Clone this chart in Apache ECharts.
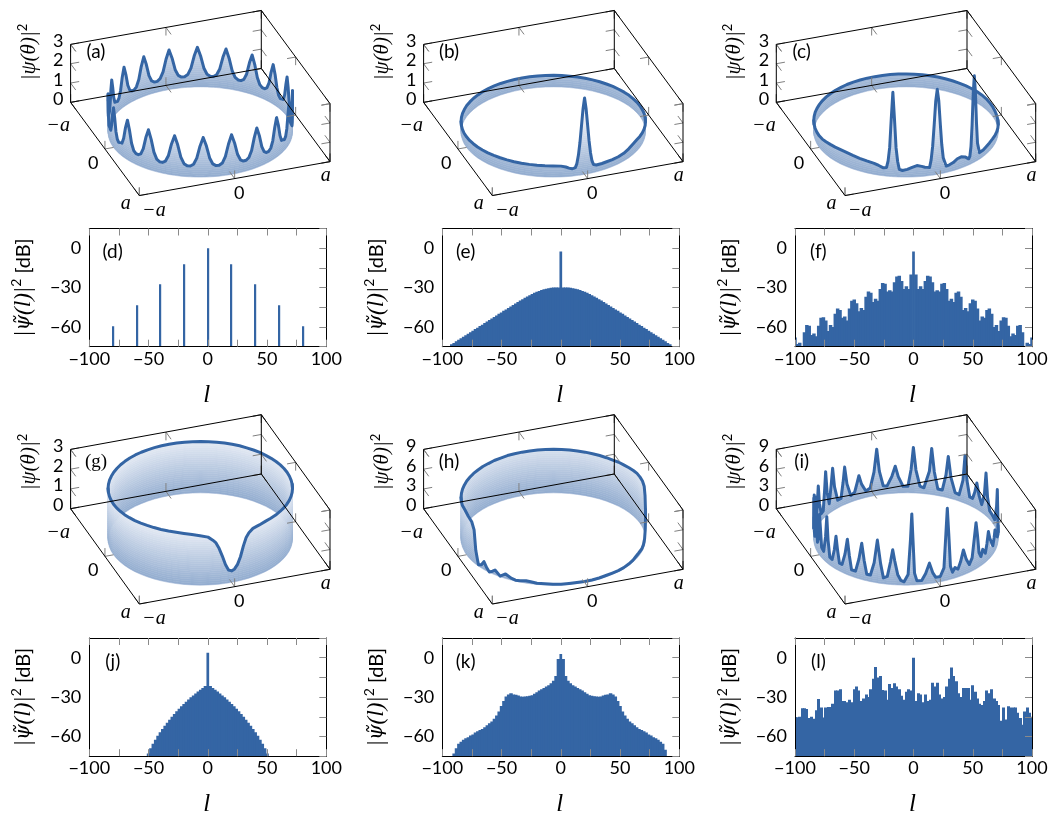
<!DOCTYPE html>
<html><head><meta charset="utf-8">
<style>html,body{margin:0;padding:0;background:#fff}#c{width:1051px;height:815px}</style>
<script src="https://cdn.jsdelivr.net/npm/echarts@6/dist/echarts.min.js"></script>
</head><body><div id="c"></div>
<script>
// ---------- ring intensity |psi(theta)|^2 ----------
const thetaA=[0,2,4,6,8,10,12,14,16,18,20,22,24,26,28,30,32,34,36,38,40,42,44,46,48,50,52,54,56,58,60,62,64,66,68,70,72,74,76,78,80,82,84,86,88,90,92,94,96,98,100,102,104,106,108,110,112,114,116,118,120,122,124,126,128,130,132,134,136,138,140,142,144,146,148,150,152,154,156,158,160,162,164,166,168,170,172,174,176,178,180,182,184,186,188,190,192,194,196,198,200,202,204,206,208,210,212,214,216,218,220,222,224,226,228,230,232,234,236,238,240,242,244,246,248,250,252,254,256,258,260,262,264,266,268,270,272,274,276,278,280,282,284,286,288,290,292,294,296,298,300,302,304,306,308,310,312,314,316,318,320,322,324,326,328,330,332,334,336,338,340,342,344,346,348,350,352,354,356,358];
const valueA=[2.05,1.6,.98,.66,.56,.56,.66,.98,1.6,2.05,1.6,.98,.66,.56,.56,.66,.98,1.6,2.05,1.6,.98,.66,.56,.56,.66,.98,1.6,2.05,1.6,.98,.66,.56,.56,.66,.98,1.6,2.05,1.6,.98,.66,.56,.56,.66,.98,1.6,2.05,1.6,.98,.66,.56,.56,.66,.98,1.6,2.05,1.6,.98,.66,.56,.56,.66,.98,1.6,2.05,1.6,.98,.66,.56,.56,.66,.98,1.6,2.05,1.6,.98,.66,.56,.56,.66,.98,1.6,2.05,1.6,.98,.66,.56,.56,.66,.98,1.6,2.05,1.6,.98,.66,.56,.56,.66,.98,1.6,2.05,1.6,.98,.66,.56,.56,.66,.98,1.6,2.05,1.6,.98,.66,.56,.56,.66,.98,1.6,2.05,1.6,.98,.66,.56,.56,.66,.98,1.6,2.05,1.6,.98,.66,.56,.56,.66,.98,1.6,2.05,1.6,.98,.66,.56,.56,.66,.98,1.6,2.05,1.6,.98,.66,.56,.56,.66,.98,1.6,2.05,1.6,.98,.66,.56,.56,.66,.98,1.6,2.05,1.6,.98,.66,.56,.56,.66,.98,1.6,2.05,1.6,.98,.66,.56,.56,.66,.98,1.6];
const thetaB=[0,5,10,15,20,25,30,35,40,45,50,55,60,65,70,75,78,80,82,83,84,85,86,87,88,89,90,91,92,93,94,95,96,97,98,100,102,105,110,115,120,125,130,135,140,145,150,155,160,165,170,175,180,185,190,195,200,205,210,215,220,225,230,235,240,245,250,255,260,265,270,275,280,285,290,295,300,305,310,315,320,325,330,335,340,345,350,355];
const valueB=[.55,.54,.54,.54,.54,.54,.55,.56,.57,.58,.55,.47,.4,.37,.36,.36,.35,.35,.35,.36,.42,.62,1.05,1.7,2.55,3.4,3.95,3.4,2.55,1.7,1.05,.62,.42,.37,.38,.43,.5,.56,.58,.58,.58,.58,.58,.58,.58,.58,.58,.57,.57,.56,.56,.55,.55,.54,.54,.54,.55,.55,.56,.56,.57,.57,.58,.58,.59,.59,.6,.6,.6,.6,.6,.6,.6,.6,.6,.6,.59,.59,.59,.58,.58,.57,.57,.56,.56,.56,.55,.55];
const thetaC=[0,5,10,15,20,25,30,35,40,45,50,53,55,57,58,59,60,61,62,63,64,65,66,67,70,73,76,79,82,83,84,85,86,87,88,89,90,91,92,93,94,95,96,98,100,103,106,109,112,113,114,115,116,117,118,119,120,121,122,124,127,130,135,140,145,150,155,160,165,170,175,180,185,190,195,200,205,210,215,220,225,230,235,240,245,250,255,260,265,270,275,280,285,290,295,300,305,310,315,320,325,330,335,340,345,350,355];
const valueC=[.5,.46,.43,.41,.4,.41,.42,.43,.44,.42,.38,.34,.33,.34,.42,.9,2,3.6,4.47,3.6,2,.9,.42,.32,.5,.58,.55,.42,.35,.33,.34,.4,.8,1.5,2.6,3.8,4.4,3.8,2.6,1.5,.8,.42,.41,.46,.52,.58,.5,.4,.34,.34,.4,.8,1.5,3,4.37,3,1.5,.8,.45,.41,.5,.57,.62,.66,.7,.73,.74,.72,.7,.66,.62,.6,.6,.6,.6,.6,.61,.62,.62,.63,.64,.65,.65,.66,.66,.67,.67,.67,.67,.67,.67,.67,.67,.67,.66,.66,.65,.65,.64,.63,.62,.61,.6,.59,.58,.56,.53];
const thetaG=[0,5,10,15,20,25,30,35,40,45,50,55,60,65,70,75,78,80,82,84,86,88,90,92,94,96,98,100,102,105,110,115,120,125,130,135,140,145,150,155,160,165,170,175,180,185,190,195,200,205,210,215,220,225,230,235,240,245,250,255,260,265,270,275,280,285,290,295,300,305,310,315,320,325,330,335,340,345,350,355];
const valueG=[2.58,2.57,2.56,2.56,2.56,2.56,2.56,2.56,2.56,2.56,2.56,2.55,2.55,2.54,2.5,2.45,2.3,2.1,1.7,1.2,.85,.65,.58,.65,.95,1.4,1.8,2.1,2.25,2.42,2.5,2.55,2.58,2.6,2.6,2.6,2.6,2.6,2.59,2.58,2.58,2.57,2.57,2.56,2.56,2.56,2.56,2.56,2.56,2.56,2.57,2.57,2.58,2.58,2.59,2.59,2.6,2.6,2.6,2.6,2.6,2.6,2.6,2.6,2.6,2.6,2.6,2.6,2.6,2.6,2.6,2.6,2.59,2.59,2.59,2.58,2.58,2.58,2.58,2.58];
const thetaH=[0,5,10,14,18,20,24,28,32,36,42,46,50,55,60,65,70,75,80,85,90,95,100,105,110,115,120,124,127,131,134,137,141,145,149,151,153.7,156,158.6,161,164,165,167,169,172,177,183,190,195,200,205,210,215,220,225,230,235,240,245,250,255,260,265,270,275,280,285,290,295,300,305,310,315,320,325,330,335,340,345,350,355];
const valueH=[7,7,6.8,5.8,4.2,3.4,2,1,.6,.45,.5,.45,.3,.22,.15,.15,.2,.2,.15,.12,.12,.15,.15,.12,.15,.2,.18,.3,.35,.2,.15,.3,.7,.1,.74,.4,.05,.5,1.2,.5,.2,.8,2.1,5,5.9,6.2,6.45,6.3,6.3,6.3,6.3,6.35,6.35,6.4,6.4,6.45,6.45,6.5,6.5,6.55,6.55,6.6,6.6,6.6,6.6,6.6,6.6,6.6,6.6,6.6,6.6,6.6,6.6,6.6,6.6,6.6,6.7,6.7,6.8,6.9,7];
const thetaI=[0,4,7,9,11.8,14,16.5,20,24,28,31,33,35,37,39.5,42,44.5,46.5,48.5,50.5,53.5,55.5,57.5,59,60.4,62,64,66.5,69,71.3,73.5,75.5,77.7,79.5,81,82.2,83.2,84.2,85.5,88,91,93,95.1,97.5,100,103,104.5,105.5,106.2,107,108.5,111,113,115,116.8,118.1,119.5,121.5,124,125.8,127.9,130,132.5,135,136.8,138.5,140.5,143,146,147.7,149.3,151.2,153.7,156,157.7,159.2,160.8,163,165.5,167.5,169,170.5,173,176,178,179.5,181,183.5,185.8,187.3,189,191,193.5,195.5,197,198.5,201,203.5,205.5,207.5,210,213,215.8,217.8,220,223,226,227.8,229.2,231,233.5,235.5,237.1,239,242,245,246.8,248.1,250,253,256,257.8,259.1,261,264,267,269.5,271.3,273,275.5,278,281,283.1,285,288,291,293,294.4,296,298.5,301,304.5,306,307.7,310,313,315.5,317.1,319,322,325,328,329.6,331.2,333.5,336,338,340,342,345,348,350,352,355,358];
const valueI=[1.4,1,1.6,3.6,6.5,3.6,1.6,1.1,1.2,1.3,1.6,2.5,3.2,2.2,1.3,1.5,3,4.25,2.6,1.4,2.3,1.4,2.2,5,7,4.8,2,1.2,2.2,3.8,2.2,1.2,1.6,1,2,7,10.9,7,2,.8,.8,1.6,3.1,1.6,.6,.6,1.8,7,10.8,7,1.6,.5,.7,1.6,3.6,5.3,3.4,1.2,.9,3,6.5,3,1,1,3,5.5,3,1,1,3,5.4,3,1.2,1.2,3,5,2.8,1.1,1.2,3.6,7,3.8,1.3,1.6,4.4,6.2,2.6,1.5,4,7.9,4,1.5,2,5,6.6,3.5,1.5,3,6,3,1.3,1.3,3.5,5.9,3,1.1,1.2,4,6.8,3.5,1.5,4,6.5,3.5,1.2,1.2,3.5,5.7,3,1,1.3,2.6,3.6,2.2,1,1.3,3.6,7,3.6,1.3,1.2,2.6,4.1,2.5,1,1,3.6,6.9,3.5,1.1,.9,3.5,7,3.5,1,1,3.4,6.3,3.2,1.1,1,3.4,7.3,3.6,1.3,1.3,2.4,4,2.4,1.2,3,6.5,3,1.3,1.2];

// ---------- spectra |psi~(l)|^2 in dB ----------
const lComb=[-80,-60,-40,-20,0,20,40,60,80];
const dbD=[-59.5,-43.4,-27.4,-12.3,0,-12.3,-27.4,-43.4,-59.5];
const lEven=[-100,-98,-96,-94,-92,-90,-88,-86,-84,-82,-80,-78,-76,-74,-72,-70,-68,-66,-64,-62,-60,-58,-56,-54,-52,-50,-48,-46,-44,-42,-40,-38,-36,-34,-32,-30,-28,-26,-24,-22,-20,-18,-16,-14,-12,-10,-8,-6,-4,-2,0,2,4,6,8,10,12,14,16,18,20,22,24,26,28,30,32,34,36,38,40,42,44,46,48,50,52,54,56,58,60,62,64,66,68,70,72,74,76,78,80,82,84,86,88,90,92,94,96,98,100];
const dbE=[-80,-78,-76,-74.4,-73.2,-72.1,-70.9,-69.8,-68.6,-67.4,-66.3,-65.1,-64,-62.8,-61.6,-60.5,-59.3,-58.2,-57,-55.8,-54.7,-53.5,-52.4,-51.2,-50,-48.9,-47.7,-46.6,-45.5,-44.3,-43.2,-42.1,-41,-39.9,-38.8,-37.8,-36.8,-35.8,-34.9,-34,-33.2,-32.5,-31.8,-31.2,-30.8,-30.4,-30.2,-30,-29.9,-29.9,-2.5,-29.9,-29.9,-30,-30.2,-30.4,-30.8,-31.2,-31.8,-32.5,-33.2,-34,-34.9,-35.8,-36.8,-37.8,-38.8,-39.9,-41,-42.1,-43.2,-44.3,-45.5,-46.6,-47.7,-48.9,-50,-51.2,-52.4,-53.5,-54.7,-55.8,-57,-58.2,-59.3,-60.5,-61.6,-62.8,-64,-65.1,-66.3,-67.4,-68.6,-69.8,-70.9,-72.1,-73.2,-74.4,-76,-78,-80];
const dbF=[-68,-73,-72,-75,-64,-58.5,-59,-66,-65,-67,-59,-53,-52.5,-55,-63,-58.5,-60,-50,-46,-47,-53,-52,-55,-46,-40,-39,-42,-48,-45.5,-47,-37,-33,-34,-41,-38.5,-40,-31,-26.5,-27,-33,-32,-33,-26,-21.5,-21,-25,-31,-29,-31,-20,-2.5,-20,-31,-29,-31,-25,-21,-21.5,-26,-33,-32,-33,-27,-26.5,-31,-40,-38.5,-41,-34,-33,-37,-47,-45.5,-48,-42,-39,-40,-46,-55,-52,-53,-47,-46,-50,-60,-58.5,-63,-55,-52.5,-53,-59,-67,-65,-66,-59,-58.5,-64,-75,-72,-73,-68];
const dbJ=[-90,-90,-90,-90,-90,-90,-90,-90,-90,-90,-90,-90,-90,-90,-90,-90,-90,-90,-90,-90,-90,-90,-90,-90,-77,-73,-69,-65.5,-62.5,-59.5,-56.8,-54.2,-51.8,-49.5,-47.3,-45,-42.8,-40.8,-38.8,-37,-35.2,-33.5,-31.8,-30.2,-28.7,-27.2,-25.8,-24.4,-23,-21.6,3.8,-21.6,-23,-24.4,-25.8,-27.2,-28.7,-30.2,-31.8,-33.5,-35.2,-37,-38.8,-40.8,-42.8,-45,-47.3,-49.5,-51.8,-54.2,-56.8,-59.5,-62.5,-65.5,-69,-73,-77,-90,-90,-90,-90,-90,-90,-90,-90,-90,-90,-90,-90,-90,-90,-90,-90,-90,-90,-90,-90,-90,-90,-90];
const dbK=[-85,-85,-85,-85,-77,-73,-69,-65.5,-64,-62.5,-61.3,-60.5,-59.3,-58.5,-57,-56,-55,-54.2,-53,-51.5,-50,-48.5,-46.5,-44,-41,-36.7,-33,-29.5,-28,-27,-28,-28.3,-28.8,-29.5,-29.7,-29.6,-29.4,-29,-28.5,-27.5,-26.3,-25,-24,-23,-22,-21,-19.5,-17.5,-14,-1,2.8,-1,-14,-17.5,-19.5,-21,-22,-23,-24,-25,-26.3,-27.5,-28.5,-29,-29.4,-29.6,-29.7,-29.5,-28.8,-28.3,-28,-27,-28,-29.5,-33,-36.7,-41,-44,-46.5,-48.5,-50,-51.5,-53,-54.2,-55,-56,-57,-58.5,-59.3,-60.5,-61.3,-62.5,-64,-65.5,-70,-76,-85,-85,-85,-85,-85];
const dbL=[-45.3,-45.3,-45,-38.5,-38.5,-39,-46,-45,-46.5,-40,-31.5,-38,-45.5,-38,-37.5,-37.5,-35,-25,-25,-24,-33,-33,-34,-32,-34,-24,-22,-25,-33,-31,-28,-30,-24,-16,-7,-15,-14,-24.5,-25,-32,-20,-23,-19.5,-22,-24,-29,-32,-26,-24,-25,0,-33,-27,-28,-34,-28,-33,-32,-19,-22,-19,-28,-31,-30,-22,-16,-7.5,-14,-18,-27,-30,-23,-23,-23,-32,-21,-26,-31,-35,-36,-33,-25,-27,-24,-31,-33,-36,-48,-38,-47,-37,-38,-38,-38,-42,-46,-51,-41,-38,-42,-45];

// ---------- tick labels and captions ----------
const xTickLabels3D=['\u2212a','0','a'];
const yTickLabels3D=['\u2212a','0','a'];
const zTicksLow=[0,1,2,3];
const zTicksHigh=[0,3,6,9];
const captions3D=['(a)','(b)','(c)','(g)','(h)','(i)'];
const captions2D=['(d)','(e)','(f)','(j)','(k)','(l)'];

// ---------- layout and style ----------
const BLUE='#3465a4', SANS='Lato', SERIF='"Liberation Serif"';
const panels3D=[
 {cap:0,theta:thetaA,value:valueA,ticks:zTicksLow,cx:200.3,cy:129},
 {cap:1,theta:thetaB,value:valueB,ticks:zTicksLow,cx:553.3,cy:129},
 {cap:2,theta:thetaC,value:valueC,ticks:zTicksLow,cx:906,cy:129},
 {cap:3,theta:thetaG,value:valueG,ticks:zTicksLow,cx:200.3,cy:539},
 {cap:4,theta:thetaH,value:valueH,ticks:zTicksHigh,cx:553.3,cy:539},
 {cap:5,theta:thetaI,value:valueI,ticks:zTicksHigh,cx:906,cy:539}
];
const panels2D=[
 {cap:0,l:lComb,db:dbD,x:89.3,y:228.5,w:2.2,soft:false},
 {cap:1,l:lEven,db:dbE,x:442.3,y:228.5,w:3.5,soft:true},
 {cap:2,l:lEven,db:dbF,x:795,y:228.5,w:3.5,soft:true},
 {cap:3,l:lEven,db:dbJ,x:89.3,y:638,w:3.5,soft:true},
 {cap:4,l:lEven,db:dbK,x:442.3,y:638,w:3.5,soft:true},
 {cap:5,l:lEven,db:dbL,x:795,y:638,w:3,soft:false}
];
const EX=[95.35,17.35], EY=[34.35,-47.65], EZ=59.3, R=0.91;
const project=(x,y,z)=>[x*EX[0]+y*EY[0], x*EX[1]+y*EY[1]+z*EZ];
const ringAt=(deg,z)=>project(R*Math.cos(deg*Math.PI/180),R*Math.sin(deg*Math.PI/180),z);
const mix=(t)=>{t=Math.min(1,Math.max(0,t));const a=[146,172,207],b=[240,243,249];
  return 'rgb('+a.map((v,i)=>Math.round(v+(b[i]-v)*t)).join(',')+')';};

const grid=[],xAxis=[],yAxis=[],series=[],graphic=[];

// split a ring's samples into the half behind and the half in front of the silhouette
function splitRing(theta){
  const n=theta.length, F0=19.8, F1=199.8;
  const inFront=[];
  theta.forEach((t,i)=>{if(t>=F0&&t<=F1)inFront.push(i);});
  const f0=inFront[0], f1=inFront[inFront.length-1];
  const front=[(f0-1+n)%n].concat(inFront,[(f1+1)%n]);
  const back=[];
  for(let i=f1;;i=(i+1)%n){back.push(i);if(i===f0)break;}
  return {front,back};
}

panels3D.forEach(p=>{
  const g=grid.length, zmax=p.ticks[p.ticks.length-1];
  grid.push({left:p.cx-145,top:p.cy-135,width:290,height:270,containLabel:false});
  const ax=xAxis.length, ay=yAxis.length;
  xAxis.push({gridIndex:g,type:'value',min:-145,max:145,show:false});
  yAxis.push({gridIndex:g,type:'value',min:-135,max:135,show:false});
  const halves=splitRing(p.theta);
  const peak=Math.max.apply(null,p.value);
  const dz=zmax/30, bands=[];
  for(let k=0;k*dz<peak;k++) bands.push([k*dz,(k+1)*dz]);
  [halves.back,halves.front].forEach((idx,h)=>{
    series.push({type:'custom',xAxisIndex:ax,yAxisIndex:ay,z:2+2*h,silent:true,data:bands,
      renderItem:(params,api)=>{
        const lo=api.value(0),hi=api.value(1);
        const top=idx.map(i=>api.coord(ringAt(p.theta[i],Math.min(hi,p.value[i])/zmax)));
        const bot=idx.map(i=>api.coord(ringAt(p.theta[i],Math.min(lo,p.value[i])/zmax))).reverse();
        const col=mix((lo+hi)/2/zmax);
        return {type:'polygon',shape:{points:top.concat(bot)},style:{fill:col,stroke:col,lineWidth:.5}};
      }});
    series.push({type:'line',xAxisIndex:ax,yAxisIndex:ay,z:3+2*h,silent:true,symbol:'none',showSymbol:false,clip:false,
      lineStyle:{color:BLUE,width:3,cap:'round',join:'round'},
      data:idx.map(i=>ringAt(p.theta[i],p.value[i]/zmax))});
  });
  // box edges and ticks
  const seg=[];
  const add=(a,b,k)=>seg.push([a[0],a[1],a[2],b[0],b[1],b[2],k]);
  const TX=.09,TY=.15,TZ=.14;
  const tick=(pt,d1,d2)=>{add(pt,[pt[0]+d1[0],pt[1]+d1[1],pt[2]+d1[2]],1);add(pt,[pt[0]+d2[0],pt[1]+d2[1],pt[2]+d2[2]],1);};
  p.ticks.forEach(zv=>{const z=zv/zmax;
    tick([-1,-1,z],[TX,0,0],[0,TY,0]);
    tick([1,-1,z],[-TX,0,0],[0,TY,0]);
    tick([1,1,z],[-TX,0,0],[0,-TY,0]);
  });
  xTickLabels3D.forEach((_,i)=>{const v=i-1;
    tick([v,-1,0],[0,TY,0],[0,0,TZ]);
    tick([v,-1,1],[0,TY,0],[0,0,-TZ]);
    tick([v,1,0],[0,-TY,0],[0,0,TZ]);
    tick([-1,v,0],[TX,0,0],[0,0,TZ]);
    tick([1,v,0],[-TX,0,0],[0,0,TZ]);
    tick([1,v,1],[-TX,0,0],[0,0,-TZ]);
  });
  [[[-1,-1,0],[1,-1,0]],[[1,-1,0],[1,1,0]],[[1,1,0],[-1,1,0]],[[-1,1,0],[-1,-1,0]],
   [[-1,-1,0],[-1,-1,1]],[[1,-1,0],[1,-1,1]],[[1,1,0],[1,1,1]],
   [[-1,-1,1],[1,-1,1]],[[1,-1,1],[1,1,1]]].forEach(e=>add(e[0],e[1],0));
  series.push({type:'custom',xAxisIndex:ax,yAxisIndex:ay,z:7,silent:true,data:seg,
    renderItem:(params,api)=>{
      const a=api.coord(project(api.value(0),api.value(1),api.value(2)));
      const b=api.coord(project(api.value(3),api.value(4),api.value(5)));
      const edge=api.value(6)===0;
      return {type:'line',shape:{x1:a[0],y1:a[1],x2:b[0],y2:b[1]},
        style:{stroke:edge?'#000':'#808080',lineWidth:1}};
    }});
  // tick labels
  const lab=[];
  p.ticks.forEach((zv,i)=>lab.push({pos:[-1,-1,zv/zmax],text:String(zv),dx:-12.4,dy:-3.3,serif:false}));
  const fx=[[14.7,15],[4.5,15],[-4.3,14]], fy=[[-12.4,23.6],[-11.7,14.3],[-13.6,8.3]];
  xTickLabels3D.forEach((t,i)=>lab.push({pos:[i-1,1,0],text:t,dx:fx[i][0],dy:fx[i][1],serif:t!=='0'}));
  yTickLabels3D.forEach((t,i)=>lab.push({pos:[-1,i-1,0],text:t,dx:fy[i][0],dy:fy[i][1],serif:t!=='0'}));
  series.push({type:'custom',xAxisIndex:ax,yAxisIndex:ay,z:8,silent:true,data:lab.map(l=>[l.pos[0],l.pos[1],l.pos[2]]),
    renderItem:(params,api)=>{
      const l=lab[params.dataIndex];
      const c=api.coord(project(api.value(0),api.value(1),api.value(2)));
      return {type:'text',x:c[0]+l.dx,y:c[1]+l.dy,style:{text:l.text,fill:'#000',align:'center',verticalAlign:'middle',
        font:l.serif?'italic 20px '+SERIF:'18px '+SANS}};
    }});
  graphic.push({type:'text',x:p.cx-171.3,y:p.cy-77,rotation:Math.PI/2,silent:true,
    style:{text:'{m|\u007C\u03C8(\u03B8)\u007C}{s|2}',align:'center',verticalAlign:'middle',
      rich:{m:{fontFamily:SERIF,fontStyle:'italic',fontSize:21,fill:'#000',lineHeight:26},
            s:{fontFamily:SANS,fontSize:13,fill:'#000',verticalAlign:'top',lineHeight:18}}}});
  const cap=captions3D[p.cap];
  graphic.push({type:'text',x:p.cx-104.3,y:p.cy-77,silent:true,
    style:{text:cap,fill:'#000',font:(cap==='(g)'?'19px '+SERIF:'19px '+SANS),align:'center',verticalAlign:'middle'}});
});

const PW=237,PH=118.2;
const minus=v=>String(v).replace('-','\u2212');
panels2D.forEach(p=>{
  const g=grid.length;
  grid.push({left:p.x,top:p.y,width:PW,height:PH,containLabel:false});
  const common={gridIndex:g,type:'value',z:5,splitLine:{show:false}};
  const line={show:true,onZero:false,lineStyle:{color:'#000',width:1}};
  const tk={show:true,inside:true,length:7,lineStyle:{color:'#8a8a8a',width:1}};
  const ax=xAxis.length, ay=yAxis.length;
  xAxis.push(Object.assign({},common,{min:-100,max:100,interval:25,position:'bottom',axisLine:line,axisTick:tk,
    axisLabel:{show:true,margin:3,color:'#000',fontFamily:SANS,fontSize:18,hideOverlap:false,
      formatter:v=>v%50===0?minus(v):''}}));
  xAxis.push(Object.assign({},common,{min:-100,max:100,interval:25,position:'top',axisLine:line,axisTick:tk,axisLabel:{show:false}}));
  yAxis.push(Object.assign({},common,{min:-75,max:15,interval:15,position:'left',axisLine:line,axisTick:{show:false},
    axisLabel:{show:true,margin:8,color:'#000',fontFamily:SANS,fontSize:18,hideOverlap:false,
      formatter:v=>v%30===0?minus(v):''}}));
  yAxis.push(Object.assign({},common,{min:-75,max:15,interval:15,position:'right',axisLine:line,axisTick:tk,axisLabel:{show:false}}));
  series.push({type:'custom',xAxisIndex:ax,yAxisIndex:ay,z:2,silent:true,clip:true,
    data:p.l.map((l,i)=>[l,p.db[i]]),encode:{x:0,y:1},
    renderItem:(params,api)=>{
      if(api.value(1)<=-75) return null;
      const t=api.coord([api.value(0),api.value(1)]),b=api.coord([api.value(0),-75]);
      const w=(p.soft&&api.value(0)===0)?2.7:p.w;
      const x=p.soft?t[0]-w/2:Math.round(t[0]-w/2);
      return {type:'rect',shape:{x:x,y:t[1],width:w,height:b[1]-t[1]},style:{fill:BLUE}};
    }});
  graphic.push({type:'text',x:p.x+23.4,y:p.y+23.5,silent:true,
    style:{text:captions2D[p.cap],fill:'#000',font:'19px '+SANS,align:'center',verticalAlign:'middle'}});
  graphic.push({type:'text',x:p.x+PW/2-1,y:p.y+PH+48.5,silent:true,
    style:{text:'l',fill:'#000',font:'italic 25px '+SERIF,align:'center',verticalAlign:'middle'}});
  graphic.push({type:'text',x:p.x-65.5,y:p.y+PH/2,rotation:Math.PI/2,silent:true,
    style:{text:'{m|\u007C}{t|\u03C8\u0303}{m|(l)\u007C}{s|2}{d| [dB]}',align:'center',verticalAlign:'middle',
      rich:{m:{fontFamily:SERIF,fontStyle:'italic',fontSize:23,fill:'#000',lineHeight:28},
            t:{fontFamily:'"DejaVu Serif"',fontStyle:'italic',fontSize:20,fill:'#000',lineHeight:28},
            s:{fontFamily:SANS,fontSize:14,fill:'#000',verticalAlign:'top',lineHeight:18},
            d:{fontFamily:SANS,fontSize:20,fill:'#000',lineHeight:28}}}});
});

const chart=echarts.init(document.getElementById('c'),null,{renderer:'canvas'});
chart.setOption({animation:false,backgroundColor:'#fff',tooltip:{show:false},legend:{show:false},grid,xAxis,yAxis,series,graphic});
</script></body></html>
